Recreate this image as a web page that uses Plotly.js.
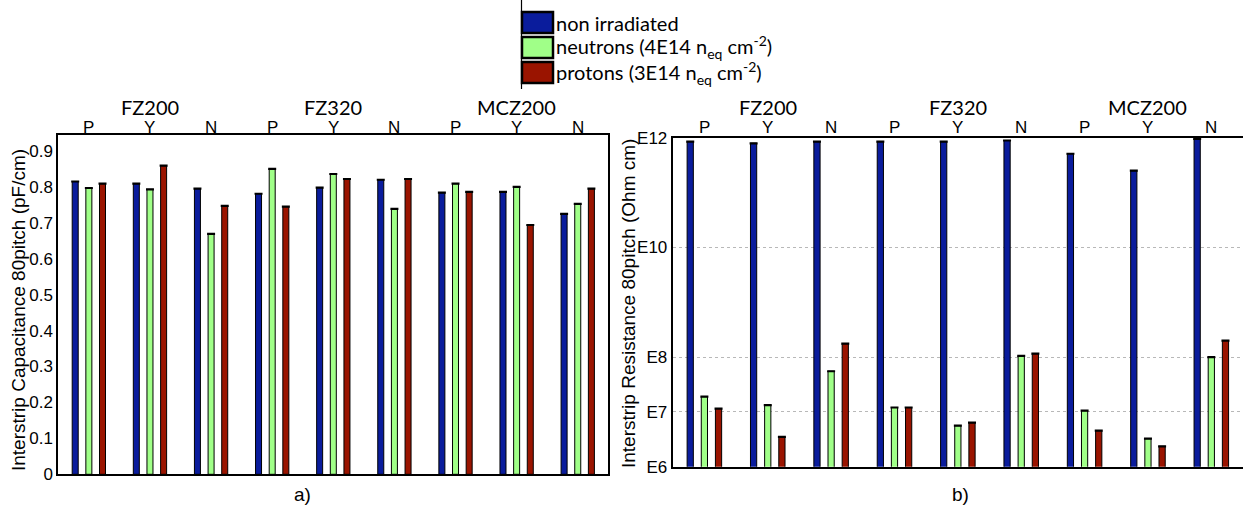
<!DOCTYPE html>
<html>
<head>
<meta charset="utf-8">
<script src="https://cdn.plot.ly/plotly-3.0.1.min.js"></script>
<style>html,body{margin:0;padding:0;background:#fff;}#chart{width:1243px;height:509px;}</style>
</head>
<body>
<div id="chart"></div>
<script>
// ---- data ----
const groups = ["FZ200", "FZ320", "MCZ200"];
const types = ["P", "Y", "N"];
const seriesNames = ["non irradiated", "neutrons (4E14 n<sub>eq</sub> cm<sup>-2</sup>)", "protons (3E14 n<sub>eq</sub> cm<sup>-2</sup>)"];
const seriesColors = ["#0a1c9c", "#a0ff88", "#9a1400"];

// Interstrip capacitance 80 pitch (pF/cm), order: FZ200 P,Y,N, FZ320 P,Y,N, MCZ200 P,Y,N
const capNonIrr = [0.815, 0.809, 0.795, 0.781, 0.798, 0.820, 0.784, 0.786, 0.725];
const capNeutrons = [0.797, 0.793, 0.669, 0.850, 0.836, 0.739, 0.809, 0.800, 0.753];
const capProtons = [0.809, 0.859, 0.747, 0.745, 0.822, 0.822, 0.786, 0.694, 0.795];

// Interstrip resistance 80 pitch (Ohm cm)
const resNonIrr = [8.5e11, 7.9e11, 8.5e11, 8.5e11, 8.5e11, 8.9e11, 5.1e11, 2.5e11, 9.5e11];
const resNeutrons = [1.9e7, 1.33e7, 5.5e7, 1.2e7, 5.6e6, 1.05e8, 1.05e7, 3.25e6, 1.0e8];
const resProtons = [1.15e7, 3.5e6, 1.75e8, 1.2e7, 6.35e6, 1.15e8, 4.55e6, 2.35e6, 2.0e8];

const capTickVals = [0, 0.1, 0.2, 0.3, 0.4, 0.5, 0.6, 0.7, 0.8, 0.9];
const capTickText = ["0", "0.1", "0.2", "0.3", "0.4", "0.5", "0.6", "0.7", "0.8", "0.9"];
const resTickVals = [1e6, 1e7, 1e8, 1e10, 1e12];
const resTickText = ["E6", "E7", "E8", "E10", "E12"];

// ---- build ----
const W = 1243, H = 509;
const px = v => v / W;
const py = v => 1 - v / H;

const cats = [];
const catLabels = [];
groups.forEach(g => types.forEach(t => { cats.push(g + " " + t); catLabels.push(t); }));

const AXF = "'Liberation Sans', Arial, sans-serif";
const CALF = "Lato, 'Open Sans', sans-serif";

function mk(vals, i, xa, ya) {
  return {
    type: "bar", x: cats, y: vals, xaxis: xa, yaxis: ya,
    name: seriesNames[i], showlegend: false,
    marker: { color: seriesColors[i], line: { color: "#000", width: 1 } },
    error_y: { type: "constant", value: 0, visible: true, width: 4, thickness: 2.2, color: "#000" },
    hoverinfo: "x+y"
  };
}

const capSeries = [capNonIrr, capNeutrons, capProtons];
const resSeries = [resNonIrr, resNeutrons, resProtons];
const traces = [];
capSeries.forEach((s, i) => traces.push(mk(s, i, "x", "y")));
resSeries.forEach((s, i) => traces.push(mk(s, i, "x2", "y2")));

const xCommon = {
  type: "category", range: [-0.5, 8.5], side: "top",
  showticklabels: false, ticks: "",
  showline: true, linecolor: "#000", linewidth: 2, mirror: true,
  showgrid: false, zeroline: false, fixedrange: true
};

const layout = {
  width: W, height: H,
  margin: { l: 0, r: 0, t: 0, b: 0 },
  paper_bgcolor: "#fff", plot_bgcolor: "#fff",
  barmode: "group", bargap: 0.33, bargroupgap: 0.56,
  showlegend: false,
  xaxis: Object.assign({}, xCommon, { domain: [px(58.3), px(608.3)], anchor: "y" }),
  yaxis: {
    domain: [py(474.3), py(135)], anchor: "x",
    range: [0, 0.9445], tickvals: capTickVals, ticktext: capTickText,
    ticks: "", tickfont: { family: AXF, size: 17, color: "#000" },
    showline: true, linecolor: "#000", linewidth: 2, mirror: true,
    showgrid: false, zeroline: false, automargin: false
  },
  xaxis2: Object.assign({}, xCommon, { domain: [px(672.7), 1], anchor: "y2" }),
  yaxis2: {
    domain: [py(466.7), py(137.7)], anchor: "x2",
    type: "log", range: [6, 12],
    tickvals: resTickVals, ticktext: resTickText,
    ticks: "", tickfont: { family: AXF, size: 17, color: "#000" },
    showline: true, linecolor: "#000", linewidth: 2, mirror: true,
    showgrid: true, gridcolor: "#b8b8b8", griddash: "dot", gridwidth: 1,
    zeroline: false, automargin: false
  },
  shapes: [],
  annotations: []
};

// axis titles
layout.annotations.push({ x: px(18), y: py(310), xref: "paper", yref: "paper", text: "Interstrip Capacitance 80pitch (pF/cm)",
  textangle: -90, showarrow: false, xanchor: "center", yanchor: "middle", font: { family: AXF, size: 19, color: "#000" } });
layout.annotations.push({ x: px(628), y: py(304), xref: "paper", yref: "paper", text: "Interstrip Resistance 80pitch (Ohm cm)",
  textangle: -90, showarrow: false, xanchor: "center", yanchor: "middle", font: { family: AXF, size: 19, color: "#000" } });

// category labels (top) and group labels
[["x"], ["x2"]].forEach(([xr]) => {
  cats.forEach((c, ci) => {
    layout.annotations.push({ x: c, y: py(127), xref: xr, yref: "paper", text: catLabels[ci], showarrow: false,
      font: { family: AXF, size: 17, color: "#000" }, xanchor: "center", yanchor: "middle" });
  });
  groups.forEach((g, gi) => {
    layout.annotations.push({ x: cats[gi * 3 + 1], y: py(107), xref: xr, yref: "paper", text: g, showarrow: false,
      font: { family: CALF, size: 20, color: "#000" }, xanchor: "center", yanchor: "middle" });
  });
});

// panel letters
layout.annotations.push({ x: px(302), y: py(494), xref: "paper", yref: "paper", text: "a)", showarrow: false,
  xanchor: "center", yanchor: "middle", font: { family: AXF, size: 19, color: "#000" } });
layout.annotations.push({ x: px(960), y: py(494), xref: "paper", yref: "paper", text: "b)", showarrow: false,
  xanchor: "center", yanchor: "middle", font: { family: AXF, size: 19, color: "#000" } });

// custom legend
layout.shapes.push({ type: "line", xref: "paper", yref: "paper", x0: px(521.5), x1: px(521.5), y0: py(0), y1: py(89),
  line: { color: "#000", width: 1.2 } });
const legTop = [12, 37, 62];
seriesNames.forEach((n, i) => {
  layout.shapes.push({ type: "rect", xref: "paper", yref: "paper",
    x0: px(522), x1: px(553), y0: py(legTop[i] + 21), y1: py(legTop[i]),
    fillcolor: seriesColors[i], line: { color: "#000", width: 2.5 } });
  layout.annotations.push({ x: px(554), y: py(legTop[i] + 10.5), xref: "paper", yref: "paper", text: n,
    showarrow: false, xanchor: "left", yanchor: "middle", font: { family: CALF, size: 20, color: "#000" } });
});

Plotly.newPlot("chart", traces, layout, { displayModeBar: false, staticPlot: true });
</script>
</body>
</html>
